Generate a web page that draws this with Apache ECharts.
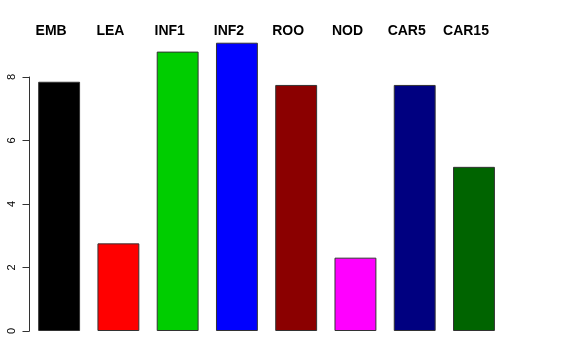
<!DOCTYPE html>
<html><head><meta charset="utf-8">
<script src="https://cdn.jsdelivr.net/npm/echarts@6/dist/echarts.min.js"></script>
<style>html,body{margin:0;padding:0;background:#fff}#c{width:576px;height:360px}</style>
</head><body><div id="c"></div>
<script>
const categories = ['EMB','LEA','INF1','INF2','ROO','NOD','CAR5','CAR15'];
const values = [7.85, 2.76, 8.80, 9.08, 7.75, 2.31, 7.75, 5.17];
const colors = ['#000000','#FF0000','#00CD00','#0000FF','#8B0000','#FF00FF','#000080','#006400'];
const yTicks = [0, 2, 4, 6, 8];

const chart = echarts.init(document.getElementById('c'), null, {renderer:'canvas'});
const L = 29.5, R = 72.4, B = 29;
chart.setOption({
  animation: false,
  grid: [
    {left: L, right: R, top: 77, bottom: B},
    {left: L, right: R, top: 13.5, bottom: B}
  ],
  xAxis: [
    {gridIndex: 0, type: 'category', data: categories, position: 'top',
     axisLine: {show: false}, axisTick: {show: false},
     axisLabel: {margin: 39, fontFamily: 'Liberation Sans', fontWeight: 'bold', fontSize: 14, color: '#000', padding: [0, 16, 0, 0], interval: 0}},
    {gridIndex: 1, type: 'category', data: categories, show: false}
  ],
  yAxis: [
    {gridIndex: 0, type: 'value', min: yTicks[0], max: yTicks[yTicks.length-1], interval: 2,
     splitLine: {show: false},
     axisLine: {show: true, lineStyle: {color: '#333', width: 1}},
     axisTick: {show: true, length: 7, lineStyle: {color: '#333'}},
     axisLabel: {rotate: 90, margin: 12, fontFamily: 'Liberation Sans', fontSize: 11, color: '#000'}},
    {gridIndex: 1, type: 'value', min: 0, max: 10, show: false}
  ],
  series: [{
    type: 'bar', xAxisIndex: 1, yAxisIndex: 1,
    barCategoryGap: '29.3%',
    data: values.map((v, i) => ({value: v, itemStyle: {color: colors[i]}})),
    itemStyle: {borderColor: '#333', borderWidth: 1}
  }]
});
</script></body></html>
